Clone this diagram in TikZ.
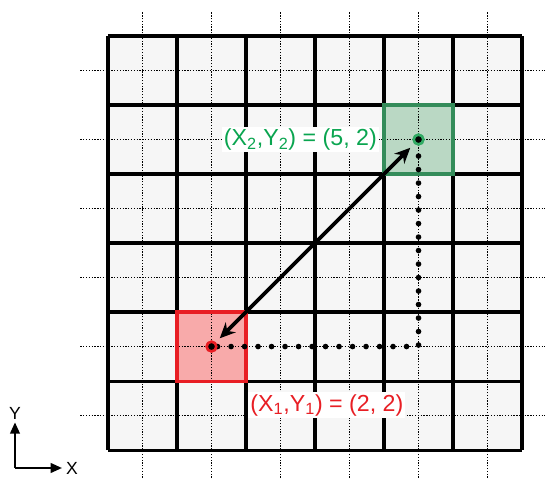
\documentclass[tikz,border=0pt]{standalone}
\usepackage{fontspec}
\setmainfont{Liberation Sans}
\usetikzlibrary{positioning,arrows.meta}

\definecolor{cellgray}{RGB}{246,246,246}
\definecolor{hotred}{RGB}{232,30,36}
\definecolor{hotfill}{RGB}{248,170,170}
\definecolor{goodgreen}{RGB}{52,140,90}
\definecolor{goodfill}{RGB}{186,216,196}
\definecolor{ringgreen}{RGB}{50,170,100}
\definecolor{labelgreen}{RGB}{10,165,80}

\begin{document}
\begin{tikzpicture}[
  x=1.725cm, y=1.725cm, >=Stealth,
  bigline/.style={black, line width=2.2pt},
  fineline/.style={black, line width=1.1pt, dash pattern=on 0.9pt off 1.1pt},
  beads/.style={black, line width=4pt, line cap=round, dash pattern=on 0pt off 9.6pt},
  jump/.style={{Stealth[length=11pt,width=10pt]}-{Stealth[length=11pt,width=10pt]},
    black, line width=2.6pt, shorten <=4pt, shorten >=4pt},
  redcell/.style={fill=hotfill, draw=hotred, line width=2.2pt},
  greencell/.style={fill=goodfill, draw=goodgreen, line width=2.2pt},
  marker/.style={circle, fill=black, line width=1.8pt, minimum size=0.24cm, inner sep=0pt},
  coordlabel/.style={fill=white, inner sep=1.5pt, font=\fontsize{16.5}{19}\selectfont},
  axis/.style={black, line width=1.1pt, -{Triangle[length=8pt,width=7pt]}},
  axislabel/.style={inner sep=0.5pt, font=\fontsize{12.5}{14}\selectfont}
]
  \useasboundingbox (-1.565,-0.42) rectangle (6.333,6.522);

  % --- board: 6 x 6 cells, fine grid through the cell centres ---
  \fill[cellgray] (0,0) rectangle (6,6);
  \draw[redcell, draw=none] (1,1) rectangle (2,2);
  \draw[greencell, draw=none] (4,4) rectangle (5,5);
  \foreach \k in {0.5,1.5,...,5.5} {
    \draw[fineline] (\k,-0.4) -- (\k,6.35);
    \draw[fineline] (-0.4,\k) -- (6.33,\k);
  }
  \foreach \k in {0,...,6} {
    \draw[bigline] (\k,0) -- (\k,6);
    \draw[bigline] (0,\k) -- (6,\k);
  }
  \draw[redcell, fill=none] (1,1) rectangle (2,2);
  \draw[greencell, fill=none] (4,4) rectangle (5,5);

  % --- start and end point ---
  \node[marker, draw=hotred] (start) at (1.5,1.5) {};
  \node[marker, draw=ringgreen] (goal) at (4.5,4.5) {};
  \coordinate (corner) at (4.5,1.5);

  % manhattan path and straight jump
  \draw[beads] (start.east) -- (corner) -- (goal.south);
  \draw[jump] (start) -- (goal);
  \node[marker, draw=hotred] at (start) {};
  \node[marker, draw=ringgreen] at (goal) {};

  \node[coordlabel, text=labelgreen, anchor=east] (goallabel) at (3.93,4.5)
    {(X\textsubscript{2},Y\textsubscript{2}) = (5, 2)};
  \node[coordlabel, text=hotred, anchor=west] (startlabel) at (2.03,0.65)
    {(X\textsubscript{1},Y\textsubscript{1}) = (2, 2)};

  % --- axes ---
  \coordinate (origin) at (-1.348,-0.26);
  \draw[axis] (origin) -- ++(0,0.66) node[axislabel, above=1pt] (ylabel) {Y};
  \draw[axis] (origin) -- ++(0.68,0) node[axislabel, right=2pt] (xlabel) {X};
\end{tikzpicture}
\end{document}
